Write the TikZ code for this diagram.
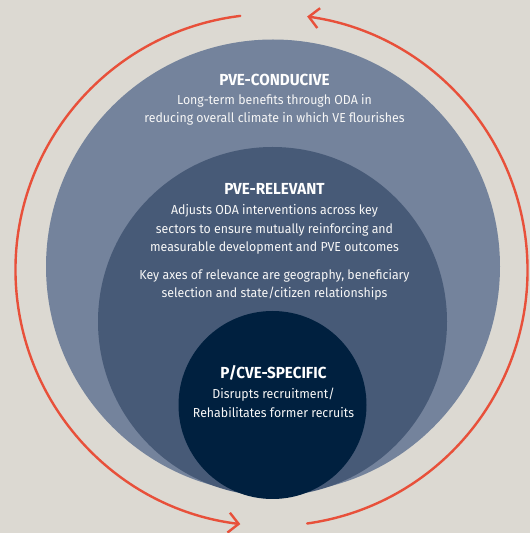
\documentclass[tikz,border=0pt]{standalone}
\usepackage{fontspec}
\setmainfont{Fira Sans}[FakeStretch=0.95]
\usetikzlibrary{arrows.meta}
\definecolor{bgsand}{HTML}{DCD9D2}
\definecolor{ringout}{HTML}{74839C}
\definecolor{ringmid}{HTML}{475A77}
\definecolor{ringin}{HTML}{00203F}
\definecolor{loopred}{HTML}{E8503A}
\tikzset{
  disc/.style={circle,inner sep=0pt,outer sep=0pt},
  ringtitle/.style={anchor=base,text=white,inner sep=0pt,font=\bfseries\fontsize{16}{19}\selectfont},
  ringtext/.style={anchor=base,text=white!94!gray,inner sep=0pt,align=center,font=\fontsize{13}{18.7}\selectfont},
  cycle arrow/.style={draw=loopred,line width=2.4pt,->}
}

\begin{document}
\begin{tikzpicture}[x=1pt,y=1pt,>={Straight Barb[length=10pt,width=20pt]},line cap=round]
\useasboundingbox[fill=bgsand] (0,0) rectangle (530,533);
% nested circles
\node[disc,minimum size=454pt,fill=ringout] (conducive) at (273,266.5) {};
\node[disc,minimum size=349pt,fill=ringmid] (relevant) at (272.5,211.5) {};
\node[disc,minimum size=188pt,fill=ringin] (specific) at (272.5,128) {};
% texts (base = last line)
\node[ringtitle] (conducive title) at (274.5,447) {PVE-CONDUCIVE};
\node[ringtext] (conducive text) at (274.5,410) {Long-term benefits through ODA in\\reducing overall climate in which VE flourishes};
\node[ringtitle] (relevant title) at (274.5,338) {PVE-RELEVANT};
\node[ringtext] (relevant text) at (274.5,281) {Adjusts ODA interventions across key\\sectors to ensure mutually reinforcing and\\measurable development and PVE outcomes};
\node[ringtext] (relevant axes) at (274.5,235) {Key axes of relevance are geography, beneficiary\\selection and state/citizen relationships};
\node[ringtitle] (specific title) at (273.5,154) {P/CVE-SPECIFIC};
\node[ringtext] (specific text) at (273.5,115.5) {Disrupts recruitment/\\Rehabilitates former recruits};
% cycle arrows
\coordinate (hub) at (271.5,263);
\draw[cycle arrow] ([shift={(97:256pt)}]hub) arc[start angle=97,end angle=263,radius=256pt];
\draw[cycle arrow] ([shift={(-82:256pt)}]hub) arc[start angle=-82,end angle=82,radius=256pt];
\end{tikzpicture}
\end{document}
